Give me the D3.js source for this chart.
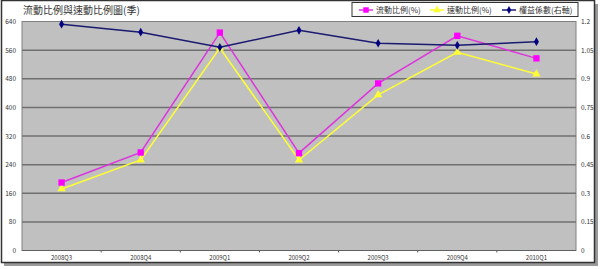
<!DOCTYPE html>
<html>
<head>
<meta charset="utf-8" />
<title>流動比例與速動比例圖(季)</title>
<style>
html, body {
  margin: 0;
  background: #ffffff;
}
svg text {
  font-family: "Noto Sans CJK TC", "DejaVu Sans", sans-serif;
}
</style>
</head>
<body>
<script src="https://d3js.org/d3.v7.min.js"></script>
<script>
// chart data
const quarters = ['2008Q3', '2008Q4', '2009Q1', '2009Q2', '2009Q3', '2009Q4', '2010Q1']
const currentRatio = [190, 274, 609, 272, 467, 600, 537]
const quickRatio = [172, 253, 566, 253, 435, 554, 493]
const equityMultiplier = [1.186, 1.144, 1.065, 1.154, 1.086, 1.075, 1.094]
const leftTicks = [0, 80, 160, 240, 320, 400, 480, 560, 640]
const rightTicks = [0, 0.15, 0.3, 0.45, 0.6, 0.75, 0.9, 1.05, 1.2]

const w = 600
const h = 269
const plot = { left: 22, right: 576, top: 21.5, bottom: 250.5 }

const svg = d3.select('body').append('svg')
  .attr('width', w)
  .attr('height', h)

// frame with shadow
svg.append('rect')
  .attr('x', 4).attr('y', 4).attr('width', 594).attr('height', 262)
  .attr('fill', '#9a9a9a')
svg.append('rect')
  .attr('x', 1.5).attr('y', 0.5).attr('width', 593).attr('height', 262)
  .attr('fill', '#ffffff').attr('stroke', '#333').attr('stroke-width', 1.5)

const x = d3.scaleBand()
  .domain(quarters)
  .range([plot.left, plot.right])

const yL = d3.scaleLinear().domain([0, 640]).range([plot.bottom, plot.top])
const yR = d3.scaleLinear().domain([0, 1.2]).range([plot.bottom, plot.top])

// plot area
svg.append('rect')
  .attr('x', plot.left).attr('y', plot.top)
  .attr('width', plot.right - plot.left).attr('height', plot.bottom - plot.top)
  .attr('fill', '#c0c0c0').attr('stroke', '#808080').attr('stroke-width', 1)

// gridlines
svg.append('g').selectAll('line')
  .data(leftTicks.slice(1, -1))
  .enter().append('line')
  .attr('x1', plot.left).attr('x2', plot.right)
  .attr('y1', d => yL(d)).attr('y2', d => yL(d))
  .attr('stroke', '#707070').attr('stroke-width', 1.5)

// left axis labels
svg.append('g').selectAll('text')
  .data(leftTicks)
  .enter().append('text')
  .attr('x', 16).attr('y', d => yL(d) + 2.5)
  .attr('text-anchor', 'end')
  .attr('font-size', 6.5).attr('fill', '#333')
  .text(d => d)

// right axis labels
svg.append('g').selectAll('text')
  .data(rightTicks)
  .enter().append('text')
  .attr('x', 581).attr('y', d => yR(d) + 2.5)
  .attr('font-size', 6.5).attr('fill', '#333')
  .text(d => d)

// x axis ticks and labels
svg.append('g').selectAll('line')
  .data(quarters.slice(1))
  .enter().append('line')
  .attr('x1', d => x(d)).attr('x2', d => x(d))
  .attr('y1', plot.bottom).attr('y2', plot.bottom + 2)
  .attr('stroke', '#555')
svg.append('line')
  .attr('x1', plot.left).attr('x2', plot.right)
  .attr('y1', plot.bottom).attr('y2', plot.bottom)
  .attr('stroke', '#606060').attr('stroke-width', 1.2)

svg.append('g').selectAll('text')
  .data(quarters)
  .enter().append('text')
  .attr('x', d => x(d) + x.bandwidth() / 2).attr('y', 260)
  .attr('text-anchor', 'middle')
  .attr('font-size', 6).attr('fill', '#333')
  .text(d => d)

const cx = (d, i) => x(quarters[i]) + x.bandwidth() / 2

function drawSeries(values, yScale, color, marker) {
  const line = d3.line()
    .x((d, i) => cx(d, i))
    .y(d => yScale(d))
  svg.append('path')
    .datum(values)
    .attr('d', line)
    .attr('fill', 'none')
    .attr('stroke', color)
    .attr('stroke-width', 1.5)
  svg.append('g').selectAll('path')
    .data(values)
    .enter().append('path')
    .attr('d', d3.symbol().type(marker.type).size(marker.size))
    .attr('transform', (d, i) => `translate(${cx(d, i)},${yScale(d)})`)
    .attr('fill', marker.fill || color)
}

drawSeries(quickRatio, yL, '#ffff33', { type: d3.symbolTriangle, size: 30 })
drawSeries(currentRatio, yL, '#dd33dd', { type: d3.symbolSquare, size: 40, fill: '#ff00ff' })
drawSeries(equityMultiplier, yR, '#1a1a70', { type: d3.symbolDiamond, size: 22, fill: '#000080' })

// title
svg.append('text')
  .attr('x', 23).attr('y', 14)
  .attr('font-size', 10).attr('fill', '#333')
  .text('流動比例與速動比例圖(季)')

// legend
const legendItems = [
  { label: '流動比例(%)', color: '#dd33dd', fill: '#ff00ff', type: d3.symbolSquare, size: 30, x: 359 },
  { label: '速動比例(%)', color: '#ffff33', fill: '#ffff33', type: d3.symbolTriangle, size: 26, x: 430 },
  { label: '權益係數(右軸)', color: '#1a1a70', fill: '#000080', type: d3.symbolDiamond, size: 18, x: 502 }
]
svg.append('rect')
  .attr('x', 352).attr('y', 2.5).attr('width', 226).attr('height', 14)
  .attr('fill', '#fff').attr('stroke', '#333').attr('stroke-width', 1)
const lg = svg.append('g').selectAll('g')
  .data(legendItems)
  .enter().append('g')
  .attr('transform', d => `translate(${d.x},10)`)
lg.append('line')
  .attr('x1', 0).attr('x2', 14)
  .attr('stroke', d => d.color).attr('stroke-width', 1.5)
lg.append('path')
  .attr('d', d => d3.symbol().type(d.type).size(d.size)())
  .attr('transform', 'translate(7,0)')
  .attr('fill', d => d.fill)
lg.append('text')
  .attr('x', 17).attr('y', 3)
  .attr('font-size', 8).attr('fill', '#333')
  .text(d => d.label)
</script>
</body>
</html>
